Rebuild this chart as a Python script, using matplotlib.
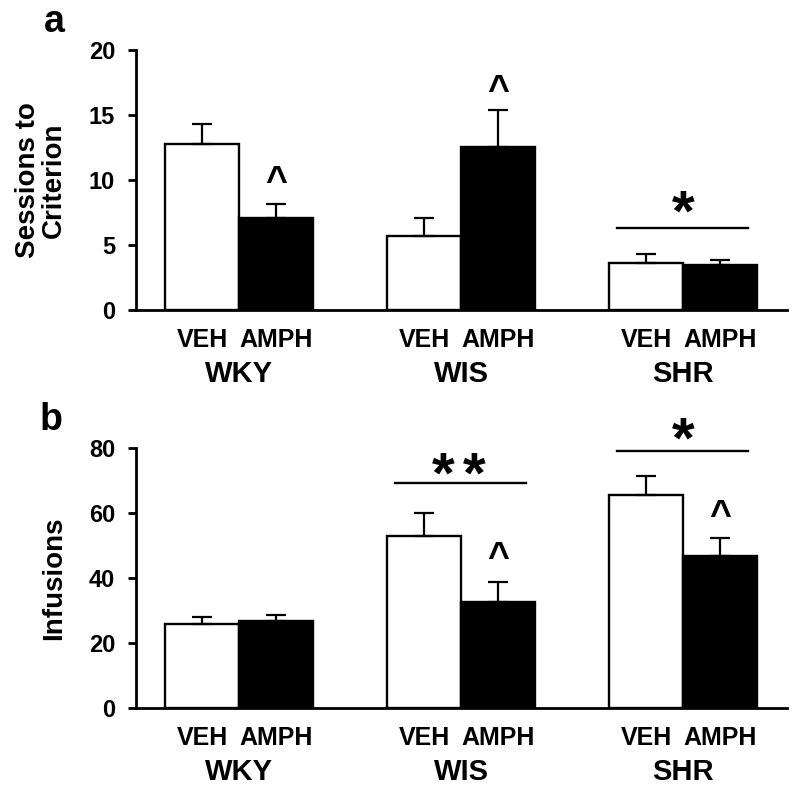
import numpy as np
import matplotlib
matplotlib.use("Agg")
import matplotlib.pyplot as plt

plt.rcParams['font.family'] = ['Liberation Sans', 'DejaVu Sans']
plt.rcParams['font.weight'] = 'bold'

# Data
groups = ['WKY', 'WIS', 'SHR']
treatments = ['VEH', 'AMPH']

sessions_veh = [12.8, 5.7, 3.6]
sessions_veh_err = [1.5, 1.35, 0.7]
sessions_amph = [7.05, 12.55, 3.5]
sessions_amph_err = [1.1, 2.8, 0.33]

infusions_veh = [25.9, 53.1, 65.6]
infusions_veh_err = [2.2, 6.9, 5.7]
infusions_amph = [27.0, 32.8, 46.9]
infusions_amph_err = [1.8, 6.2, 5.4]

x = np.arange(len(groups))
w = 0.333

fig = plt.figure(figsize=(8, 7.93), dpi=100)
ax1 = fig.add_axes([0.17, 0.609, 0.814, 0.328])
ax2 = fig.add_axes([0.17, 0.1068, 0.814, 0.328])


def draw_panel(ax, veh, veh_err, amph, amph_err, ymax, step, ylabel):
    err_kw = dict(ecolor='black', capsize=7, elinewidth=1.6, capthick=1.6)
    ax.bar(x - w / 2, veh, w, color='white', edgecolor='black', linewidth=1.7,
           yerr=[np.zeros(3), veh_err], error_kw=err_kw, zorder=2)
    ax.bar(x + w / 2, amph, w, color='black', edgecolor='black', linewidth=1.7,
           yerr=[np.zeros(3), amph_err], error_kw=err_kw, zorder=2)
    ax.set_xlim(-0.464, 2.468)
    ax.set_ylim(0, ymax)
    ax.set_yticks(np.arange(0, ymax + 1, step))
    ax.spines['top'].set_visible(False)
    ax.spines['right'].set_visible(False)
    ax.spines['left'].set_linewidth(2)
    ax.spines['bottom'].set_linewidth(2)
    ax.tick_params(axis='y', direction='out', length=6, width=2, labelsize=17, pad=9)
    ax.set_xticks(np.concatenate([x - w / 2, x + w / 2]))
    ax.set_xticklabels(['VEH'] * 3 + ['AMPH'] * 3, fontsize=18)
    ax.tick_params(axis='x', length=0, pad=13)
    for xi, g in zip(x, groups):
        ax.text(xi, -0.245, g, transform=ax.get_xaxis_transform(),
                ha='center', va='center', fontsize=21, fontweight='bold')
    ax.set_ylabel(ylabel, fontsize=20, fontweight='bold', linespacing=1.0)
    ax.yaxis.set_label_coords(-0.106, 0.5)


draw_panel(ax1, sessions_veh, sessions_veh_err, sessions_amph, sessions_amph_err,
           20, 5, 'Sessions to\nCriterion')
draw_panel(ax2, infusions_veh, infusions_veh_err, infusions_amph, infusions_amph_err,
           80, 20, 'Infusions')

# significance marks
caret_kw = dict(ha='center', va='center', fontsize=27, fontweight='bold')
star_kw = dict(ha='center', va='center', fontsize=42, fontweight='bold', clip_on=False)

ax1.text(x[0] + w / 2, 9.8, '^', **caret_kw)
ax1.text(x[1] + w / 2, 16.75, '^', **caret_kw)
ax1.plot([x[2] - 0.3, x[2] + 0.29], [6.3, 6.3], color='black', lw=1.7)
ax1.text(x[2], 7.25, '*', **star_kw)

ax2.text(x[1] + w / 2, 45.8, '^', **caret_kw)
ax2.text(x[2] + w / 2, 58.8, '^', **caret_kw)
ax2.plot([x[1] - 0.3, x[1] + 0.29], [69.2, 69.2], color='black', lw=1.7, clip_on=False)
ax2.text(x[1] - 0.08, 70.9, '*', **star_kw)
ax2.text(x[1] + 0.06, 70.9, '*', **star_kw)
ax2.plot([x[2] - 0.3, x[2] + 0.29], [79.2, 79.2], color='black', lw=1.7, clip_on=False)
ax2.text(x[2], 81.7, '*', **star_kw)

fig.text(0.068, 0.972, 'a', ha='center', va='center', fontsize=27, fontweight='bold')
fig.text(0.064, 0.47, 'b', ha='center', va='center', fontsize=27, fontweight='bold')

fig.savefig('out.png', dpi=100)
